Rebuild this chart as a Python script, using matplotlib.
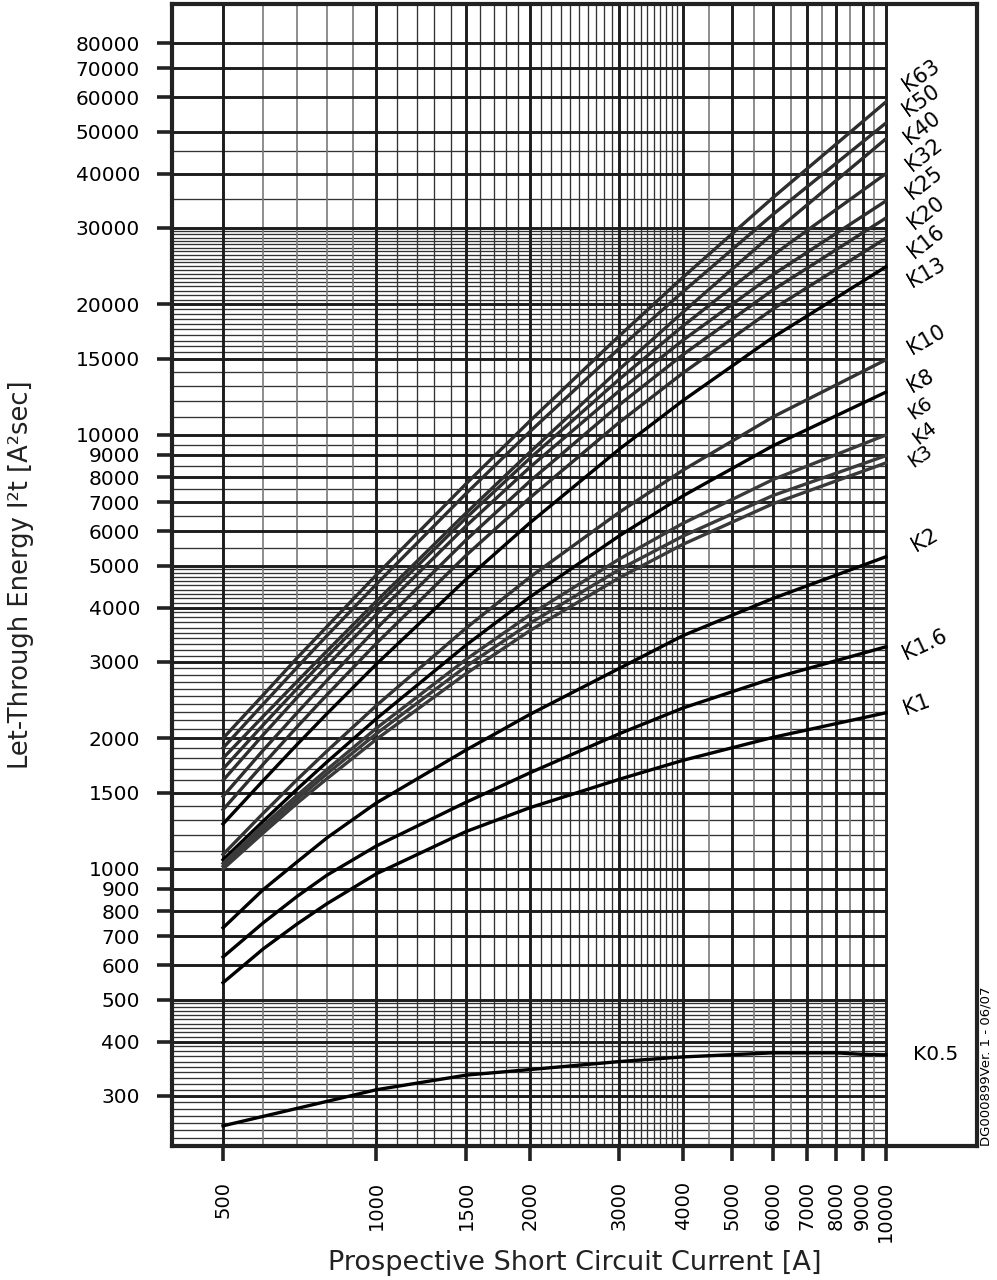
import matplotlib.pyplot as plt

# prospective short circuit current [A] where the curves were read
current = [500, 600, 700, 800, 1000, 1500, 2000, 3000, 4000, 6000, 10000]

# let-through energy I2t [A2s] for each fuse rating
k63 = [2000, 2520, 3070, 3620, 4760, 7720, 10760, 16930, 23100, 35200, 58500]
k50 = [1900, 2400, 2920, 3450, 4530, 7330, 10170, 15850, 21400, 32200, 52300]
k40 = [1800, 2250, 2710, 3180, 4140, 6610, 9120, 14180, 19200, 29100, 48100]
k32 = [1700, 2150, 2610, 3080, 4030, 6440, 8830, 13450, 17840, 25940, 40000]
k25 = [1600, 2040, 2490, 2940, 3860, 6170, 8420, 12650, 16540, 23400, 34600]
k20 = [1470, 1880, 2295, 2720, 3580, 5730, 7820, 11740, 15320, 21580, 31600]
k16 = [1370, 1745, 2130, 2520, 3310, 5280, 7160, 10700, 13900, 19500, 28400]
k13 = [1270, 1600, 1940, 2280, 2965, 4650, 6270, 9280, 12010, 16780, 24400]
k10 = [1080, 1345, 1610, 1870, 2380, 3590, 4700, 6640, 8300, 11000, 14900]
k8 = [1050, 1290, 1530, 1765, 2220, 3280, 4230, 5860, 7240, 9440, 12550]
k6 = [1030, 1260, 1480, 1695, 2110, 3040, 3850, 5180, 6260, 7890, 10000]
k4 = [1015, 1236, 1450, 1658, 2050, 2930, 3680, 4900, 5850, 7250, 8960]
k3 = [1000, 1212, 1420, 1615, 1990, 2820, 3540, 4690, 5600, 6940, 8620]
k2 = [732, 897, 1040, 1180, 1420, 1880, 2270, 2900, 3450, 4200, 5240]
k1_6 = [627, 752, 866, 968, 1130, 1425, 1665, 2050, 2350, 2750, 3250]
k1 = [547, 655, 748, 832, 975, 1220, 1384, 1610, 1780, 2010, 2290]

k05_current = [500, 1000, 1500, 2000, 3000, 4000, 6000, 8000, 9000, 10000]
k05 = [256, 310, 335, 345, 360, 369, 377, 377, 374, 373]

names = ["K63", "K50", "K40", "K32", "K25", "K20", "K16", "K13",
         "K10", "K8", "K6", "K4", "K3", "K2", "K1.6", "K1"]
series = [k63, k50, k40, k32, k25, k20, k16, k13,
          k10, k8, k6, k4, k3, k2, k1_6, k1]
colors = ['#2e2e2e'] * 7 + ['#000000', '#333333', '#000000',
                            '#3a3a3a', '#3a3a3a', '#3a3a3a',
                            '#000000', '#000000', '#000000']

# where the rating labels sit (right of the grid)
label_x = [11700, 11700, 11800, 11900, 11900, 12000, 12000, 12000,
           12000, 11700, 11700, 11900, 11700, 11900, 11900, 11500]
label_y = [67500, 59100, 50900, 44200, 38100, 32500, 27800, 23700,
           16550, 13300, 11500, 10100, 8950, 5730, 3280, 2390]
label_rot = [35, 35, 38, 38, 38, 38, 38, 30, 30, 30, 35, 38, 35, 30, 25, 20]
label_size = [15] * 10 + [14, 14, 14] + [15, 15, 15]

x_ticks = [500, 1000, 1500, 2000, 3000, 4000, 5000, 6000, 7000, 8000, 9000, 10000]
y_ticks = [300, 400, 500, 600, 700, 800, 900, 1000, 1500, 2000, 3000, 4000,
           5000, 6000, 7000, 8000, 9000, 10000, 15000, 20000, 30000, 40000,
           50000, 60000, 70000, 80000]

xmin, xmax = 397, 15100
ymin, ymax = 230, 98400
x_end = 10000

fig = plt.figure(figsize=(9.97, 12.8), dpi=100)
ax = fig.add_axes([172 / 997, 1 - 1146 / 1280, (977 - 172) / 997, (1146 - 4) / 1280])
ax.set_xscale('log')
ax.set_yscale('log')
ax.set_xlim(xmin, xmax)
ax.set_ylim(ymin, ymax)

# graph paper grid, only up to 10000 A
thin_y = (list(range(240, 500, 10)) + list(range(1100, 1500, 100))
          + list(range(1600, 5000, 100)) + list(range(5500, 10000, 1000))
          + list(range(11000, 15000, 1000)) + list(range(15500, 30000, 500))
          + [35000, 45000])
thin_y = [v for v in thin_y if v not in y_ticks]
ax.hlines(thin_y, xmin, x_end, colors='#333333', lw=0.95, zorder=1)
ax.hlines(y_ticks, xmin, x_end, colors='#1c1c1c', lw=2.1, zorder=2)

grey_x = [600, 700, 800, 900] + list(range(4500, 10000, 1000))
thin_x = list(range(1100, 1500, 100)) + [v for v in range(1600, 4000, 100)
                                          if v not in x_ticks]
ax.vlines(grey_x, ymin, ymax, colors='#7a7a7a', lw=1.2, zorder=1)
ax.vlines(thin_x, ymin, ymax, colors='#333333', lw=0.95, zorder=1)
ax.vlines(x_ticks, ymin, ymax, colors='#1c1c1c', lw=2.1, zorder=2)

for vals, col in zip(series, colors):
    ax.plot(current, vals, color=col, lw=2.4, zorder=4, solid_joinstyle='round')
ax.plot(k05_current, k05, color='#000000', lw=2.4, zorder=4)

for name, xv, yv, rot, fs in zip(names, label_x, label_y, label_rot, label_size):
    ax.text(xv, yv, name, rotation=rot, ha='center', va='center',
            fontsize=fs, zorder=5)
ax.text(12500, 373, "K0.5", ha='center', va='center', fontsize=14.5, zorder=5)

for s in ax.spines.values():
    s.set_linewidth(3)
    s.set_color('#222222')

ax.set_xticks(x_ticks)
ax.set_xticklabels([str(v) for v in x_ticks], rotation=90, fontsize=14)
ax.set_yticks(y_ticks)
ax.set_yticklabels([str(v) for v in y_ticks], fontsize=14.5)
ax.minorticks_off()
ax.tick_params(axis='both', length=11, width=2.6, color='#222222')
ax.tick_params(axis='x', pad=14)
ax.tick_params(axis='y', pad=12)

ax.set_xlabel("Prospective Short Circuit Current [A]", fontsize=19.5, labelpad=6,
              color='#222222')
ax.set_ylabel("Let-Through Energy I²t [A²sec]", fontsize=18.5, labelpad=30,
              color='#222222')

fig.text(986 / 997, 1 - 1146 / 1280, "DG000899Ver. 1 - 06/07", rotation=90,
         ha='center', va='bottom', fontsize=9.5)

fig.savefig("out.png", dpi=100)
